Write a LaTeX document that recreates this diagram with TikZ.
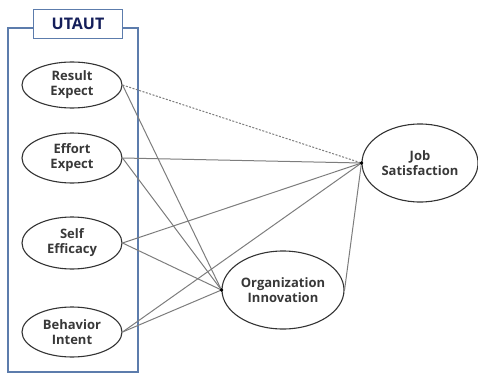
\documentclass[tikz,border=0pt]{standalone}
\usepackage{fontspec}
\setmainfont{Open Sans}
\usetikzlibrary{shapes.geometric}
\definecolor{frameblue}{RGB}{92,124,172}
\definecolor{titlenavy}{RGB}{20,30,90}
\definecolor{linegray}{RGB}{125,125,125}
\tikzset{
    construct/.style={ellipse, draw=black!80, line width=1.1pt, inner sep=0pt,
        align=center, font=\fontsize{13}{15}\selectfont\bfseries, text=black!78},
    path/.style={linegray, line width=1pt},
    weakpath/.style={linegray, line width=1pt, dash pattern=on 2pt off 1.5pt}
}

\begin{document}
\begin{tikzpicture}[x=1pt,y=-1pt]
                        \useasboundingbox (0,0) rectangle (478,374);
                        % UTAUT frame
                        \draw[frameblue, line width=1.1pt] (8,28) rectangle (138,372);
                        \node[draw=frameblue, line width=1.1pt, fill=white, minimum width=89pt, minimum height=29pt,
                              font=\fontsize{16}{18}\selectfont\bfseries, text=titlenavy] (utaut) at (78,24) {UTAUT};
                        % constructs
                        \node[construct, minimum width=100pt, minimum height=46pt] (result) at (72,85) {Result\\Expect};
                        \node[construct, minimum width=100pt, minimum height=50pt] (effort) at (72,158) {Effort\\Expect};
                        \node[construct, minimum width=100pt, minimum height=52pt] (self) at (72,243) {Self\\Efficacy};
                        \node[construct, minimum width=100pt, minimum height=50pt] (behavior) at (72,332) {Behavior\\Intent};
                        \node[construct, minimum width=122pt, minimum height=78pt] (innov) at (283,290) {Organization\\Innovation};
                        \node[construct, minimum width=116pt, minimum height=78pt] (job) at (420,163) {Job\\Satisfaction};
                        % paths
                        \draw[weakpath] (result.east) -- (job.west);
                        \draw[path] (result.east) -- (innov.west);
                        \draw[path] (effort.east) -- (job.west);
                        \draw[path] (effort.east) -- (innov.west);
                        \draw[path] (self.east) -- (job.west);
                        \draw[path] (self.east) -- (innov.west);
                        \draw[path] (behavior.east) -- (job.west);
                        \draw[path] (behavior.east) -- (innov.west);
                        \draw[path] (innov.east) -- (job.west);
                        \fill[black] (job.west) circle (1.8pt);
                        \fill[black] (innov.west) circle (1.8pt);
                    \end{tikzpicture}
\end{document}
